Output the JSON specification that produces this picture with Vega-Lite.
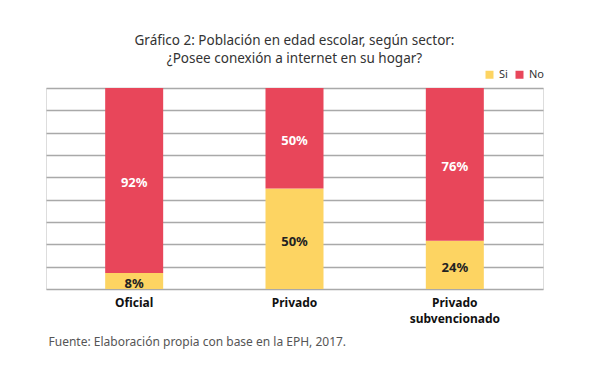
{
  "$schema": "https://vega.github.io/schema/vega-lite/v6.json",
  "width": 497,
  "height": 201,
  "autosize": {"type": "none"},
  "padding": {"left": 46, "top": 88, "right": 46, "bottom": 82},
  "background": "white",
  "title": {
    "text": ["Gráfico 2: Población en edad escolar, según sector:", "¿Posee conexión a internet en su hogar?"],
    "fontSize": 13.5,
    "font": "Noto Sans",
    "fontWeight": "normal",
    "color": "#333333",
    "anchor": "middle",
    "offset": 4,
    "lineHeight": 17.5
  },
  "data": {
    "values": [
      {"sector": "Oficial", "respuesta": "Si", "pct": 8, "etiqueta": "8%", "orden": 1},
      {"sector": "Oficial", "respuesta": "No", "pct": 92, "etiqueta": "92%", "orden": 2},
      {"sector": "Privado", "respuesta": "Si", "pct": 50, "etiqueta": "50%", "orden": 1},
      {"sector": "Privado", "respuesta": "No", "pct": 50, "etiqueta": "50%", "orden": 2},
      {"sector": "Privado subvencionado", "respuesta": "Si", "pct": 24, "etiqueta": "24%", "orden": 1},
      {"sector": "Privado subvencionado", "respuesta": "No", "pct": 76, "etiqueta": "76%", "orden": 2}
    ]
  },
  "encoding": {
    "x": {
      "field": "sector",
      "type": "nominal",
      "sort": ["Oficial", "Privado", "Privado subvencionado"],
      "scale": {"paddingInner": 0.64, "paddingOuter": 0.37},
      "axis": {
        "title": "Fuente: Elaboración propia con base en la EPH, 2017.",
        "titleFont": "Noto Sans",
        "titleFontSize": 12,
        "titleFontWeight": "normal",
        "titleColor": "#555555",
        "titleAnchor": "start",
        "titleAlign": "left",
        "titleX": 2,
        "titlePadding": 12,
        "labelAngle": 0,
        "labelFont": "Noto Sans",
        "labelFontSize": 12,
        "labelFontWeight": "bold",
        "labelColor": "#111111",
        "labelPadding": 8,
        "labelLineHeight": 16,
        "labelExpr": "datum.label == 'Privado subvencionado' ? ['Privado', 'subvencionado'] : datum.label",
        "ticks": false,
        "domain": false
      }
    },
    "y": {
      "field": "pct",
      "type": "quantitative",
      "stack": "zero",
      "scale": {"domain": [0, 100]},
      "axis": {
        "title": null,
        "labels": false,
        "ticks": false,
        "domain": false,
        "grid": true,
        "gridColor": "#a9a9a9",
        "gridWidth": 1.5,
        "values": [0, 11.111, 22.222, 33.333, 44.444, 55.556, 66.667, 77.778, 88.889, 100]
      }
    },
    "order": {"field": "orden", "type": "quantitative"}
  },
  "layer": [
    {
      "mark": {"type": "bar", "width": 58},
      "encoding": {
        "color": {
          "field": "respuesta",
          "type": "nominal",
          "scale": {"domain": ["Si", "No"], "range": ["#FDD462", "#E8465A"]},
          "legend": {
            "title": null,
            "orient": "none",
            "legendX": 438,
            "legendY": -19,
            "direction": "horizontal",
            "symbolType": "square",
            "symbolSize": 64,
            "symbolStrokeWidth": 0,
            "labelFont": "Noto Sans",
            "labelFontSize": 11,
            "labelColor": "#333333",
            "labelOffset": 4,
            "columnPadding": 6
          }
        }
      }
    },
    {
      "mark": {"type": "text", "font": "Noto Sans", "fontSize": 13, "fontWeight": "bold", "baseline": "middle", "dy": 3},
      "encoding": {
        "y": {"field": "pct", "type": "quantitative", "stack": "zero", "bandPosition": 0.5},
        "text": {"field": "etiqueta", "type": "nominal"},
        "detail": {"field": "respuesta"},
        "color": {
          "condition": {"test": "datum.respuesta == 'No'", "value": "white"},
          "value": "#222222"
        }
      }
    }
  ]
}
